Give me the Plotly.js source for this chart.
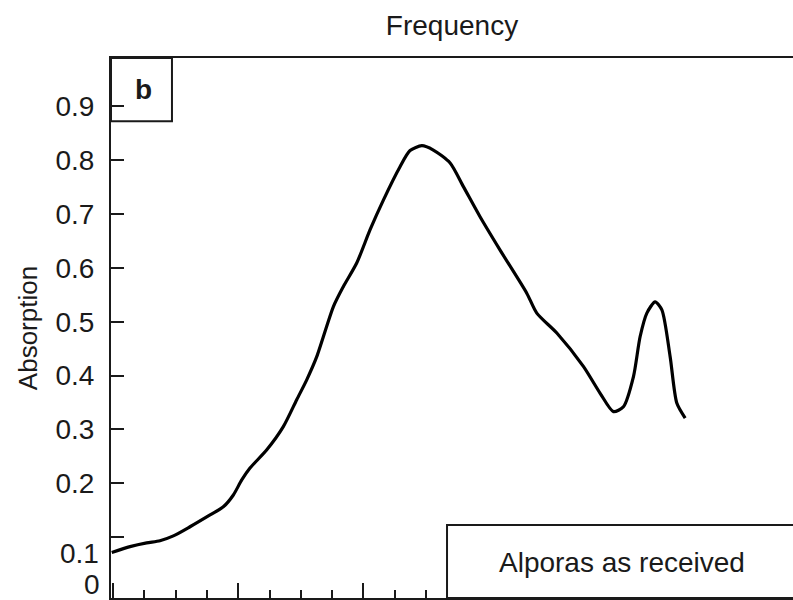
<!DOCTYPE html>
<html>
<head>
<meta charset="utf-8">
<script src="https://cdn.plot.ly/plotly-3.0.1.min.js"></script>
<style>html,body{margin:0;padding:0;background:#fff;}#chart{width:793px;height:600px;}</style>
</head>
<body>
<div id="chart"></div>
<script>
// Frequency (arbitrary units: one major tick = 1)
const frequency = [-0.01, 0.136, 0.269, 0.375, 0.482, 0.615, 0.775, 0.881, 0.961, 1.028, 1.094, 1.228, 1.360, 1.467, 1.547,
  1.627, 1.760, 1.839, 1.946, 2.053, 2.159, 2.292, 2.372, 2.466, 2.558, 2.692, 2.798, 2.931, 3.091, 3.304, 3.384,
  3.544, 3.756, 3.890, 3.996, 4.076, 4.156, 4.209, 4.263, 4.329, 4.383, 4.449, 4.502, 4.569];
const absorption = [0.071, 0.082, 0.089, 0.093, 0.102, 0.119, 0.141, 0.156, 0.178, 0.206, 0.228, 0.262, 0.305, 0.355, 0.392,
  0.435, 0.528, 0.565, 0.609, 0.671, 0.726, 0.788, 0.818, 0.827, 0.819, 0.795, 0.751, 0.695, 0.633, 0.553, 0.516,
  0.479, 0.417, 0.367, 0.333, 0.342, 0.398, 0.472, 0.516, 0.537, 0.522, 0.435, 0.349, 0.321];
const yTickVals = [0.1, 0.2, 0.3, 0.4, 0.5, 0.6, 0.7, 0.8, 0.9];
const yTickText = ['', '0.2', '0.3', '0.4', '0.5', '0.6', '0.7', '0.8', '0.9'];
const panelLabel = 'b';
const sampleLabel = 'Alporas as received';
const xTitle = 'Frequency';
const yTitle = 'Absorption';

const FONT = 'Liberation Sans, Arial, sans-serif';
const INK = '#1a1a1a';
const FS = 28;

const trace = {
  x: frequency, y: absorption, type: 'scatter', mode: 'lines',
  line: {color: '#000', width: 3.2, shape: 'spline', smoothing: 0.7},
  hoverinfo: 'skip', showlegend: false
};

const layout = {
  width: 793, height: 600,
  margin: {l: 111, r: 0, t: 58, b: 2},
  paper_bgcolor: '#fff', plot_bgcolor: '#fff',
  font: {family: FONT, size: FS, color: INK},
  title: {text: xTitle, font: {family: FONT, size: FS, color: INK},
          x: 0.5, xref: 'paper', xanchor: 'center', y: 0.958, yref: 'container', yanchor: 'middle'},
  xaxis: {
    range: [-0.016, 5.43], showgrid: false, zeroline: false,
    showline: true, linecolor: INK, linewidth: 2, mirror: true,
    ticks: 'inside', tick0: 0, dtick: 1, ticklen: 15, tickwidth: 2, tickcolor: INK,
    showticklabels: false,
    minor: {ticks: 'inside', dtick: 0.25, tick0: 0, ticklen: 8, tickwidth: 2, tickcolor: INK, showgrid: false}
  },
  yaxis: {
    range: [-0.0134, 0.990], showgrid: false, zeroline: false,
    showline: true, linecolor: INK, linewidth: 2, mirror: false,
    ticks: 'inside', ticklen: 13, tickwidth: 2, tickcolor: INK,
    tickmode: 'array', tickvals: yTickVals, ticktext: yTickText,
    tickfont: {family: FONT, size: FS, color: INK}, ticklabelstandoff: 9,
    title: {text: yTitle, font: {family: FONT, size: 26, color: INK}, standoff: 10}
  },
  shapes: [
    {type: 'rect', xref: 'paper', yref: 'paper', x0: 0, x1: 0.0894, y0: 0.883, y1: 1,
     line: {color: INK, width: 2}, fillcolor: 'rgba(0,0,0,0)'},
    {type: 'rect', xref: 'paper', yref: 'paper', x0: 0.4927, x1: 1.02, y0: 0, y1: 0.135,
     line: {color: INK, width: 2}, fillcolor: '#fff', layer: 'above'}
  ],
  annotations: [
    {text: '<b>' + panelLabel + '</b>', xref: 'paper', yref: 'paper', x: 0.047, y: 0.941,
     xanchor: 'center', yanchor: 'middle', showarrow: false, font: {family: FONT, size: FS, color: INK}},
    {text: sampleLabel, xref: 'paper', yref: 'paper', x: 0.749, y: 0.065,
     xanchor: 'center', yanchor: 'middle', showarrow: false, font: {family: FONT, size: FS, color: INK}},
    {text: '0.1', xref: 'paper', yref: 'paper', x: 0, y: 0.0833, xanchor: 'right', yanchor: 'middle', xshift: -10,
     showarrow: false, font: {family: FONT, size: FS, color: INK}},
    {text: '0', xref: 'paper', yref: 'paper', x: 0, y: 0, xanchor: 'right', yanchor: 'bottom', xshift: -10, yshift: -3,
     borderpad: 0, showarrow: false, font: {family: FONT, size: FS, color: INK}}
  ]
};

Plotly.newPlot('chart', [trace], layout, {displayModeBar: false, staticPlot: true});
</script>
</body>
</html>
